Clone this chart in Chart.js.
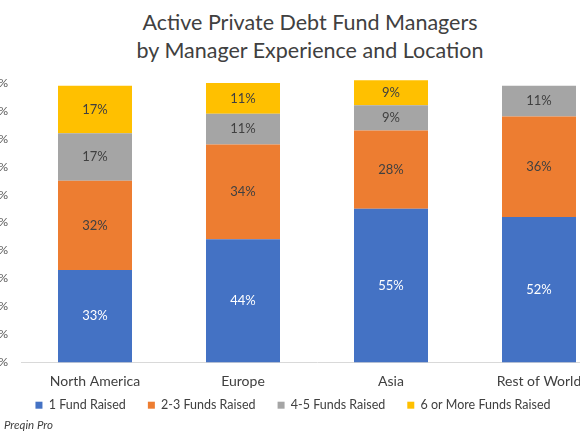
<!DOCTYPE html>
<html>
<head>
<meta charset="utf-8">
<script src="https://cdn.jsdelivr.net/npm/chart.js@4"></script>
<style>
    html, body { margin: 0; padding: 0; width: 580px; height: 435px; overflow: hidden; background: #fff; }
    #title {
        position: absolute; left: 0; top: 8px; width: 620px;
        text-align: center; font-family: Lato, sans-serif; font-size: 21.5px;
        line-height: 28px; color: #404040;
    }
    #wrap { position: absolute; left: -27px; top: 0; width: 700px; height: 441px; }
    #source {
        position: absolute; left: 4px; top: 418px;
        font-family: Lato, sans-serif; font-style: italic; font-size: 11.5px; color: #404040;
    }
</style>
</head>
<body>
<div id="title">Active Private Debt Fund Managers<br>by Manager Experience and Location</div>
<div id="wrap"><canvas id="chart"></canvas></div>
<div id="source">Preqin Pro</div>
<script>
// 数据
const regions = ['North America', 'Europe', 'Asia', 'Rest of World'];
const seriesNames = ['1 Fund Raised', '2-3 Funds Raised', '4-5 Funds Raised', '6 or More Funds Raised'];
const oneFund = [33, 44, 55, 52];
const twoToThree = [32, 34, 28, 36];
const fourToFive = [17, 11, 9, 11];
const sixPlus = [17, 11, 9, 0];
const yTicks = [0, 10, 20, 30, 40, 50, 60, 70, 80, 90, 100];

const colors = ['#4472C4', '#ED7D31', '#A5A5A5', '#FFC000'];
const values = [oneFund, twoToThree, fourToFive, sixPlus];

const legendPad = 22;
const legendFont = 12.5;

// 柱内数值标签
const barLabels = {
    id: 'barLabels',
    afterDatasetsDraw(chart) {
        const ctx = chart.ctx;
        ctx.save();
        ctx.font = '13px Lato, sans-serif';
        ctx.textAlign = 'center';
        ctx.textBaseline = 'middle';
        chart.data.datasets.forEach((ds, i) => {
            const meta = chart.getDatasetMeta(i);
            meta.data.forEach((bar, j) => {
                const v = ds.data[j];
                if (!v) return;
                const p = bar.getProps(['x', 'y', 'base'], true);
                ctx.fillStyle = i === 0 ? '#ffffff' : '#404040';
                ctx.fillText(v + '%', p.x, (p.y + p.base) / 2);
            });
        });
        ctx.restore();
    }
};

// 图例上移，贴近分类标签
const legendShift = {
    id: 'legendShift',
    afterLayout(chart) {
        const lg = chart.legend;
        const top = chart.chartArea.bottom + 43 - legendPad - legendFont / 2;
        const h = lg.bottom - lg.top;
        lg.top = top;
        lg.bottom = top + h;
    }
};

const chart = new Chart(document.getElementById('chart'), {
    type: 'bar',
    data: {
        labels: regions,
        datasets: seriesNames.map((name, i) => ({
            label: name,
            data: values[i],
            backgroundColor: colors[i],
            borderWidth: 0,
            barPercentage: 1,
            categoryPercentage: 0.5,
            clip: false
        }))
    },
    options: {
        responsive: true,
        maintainAspectRatio: false,
        animation: false,
        layout: { padding: { left: 0, right: 60, top: 83, bottom: 0 } },
        scales: {
            x: {
                stacked: true,
                grid: { display: true, drawOnChartArea: false, drawTicks: false },
                border: { display: true, color: '#D9D9D9', width: 1 },
                ticks: { color: '#404040', font: { family: 'Lato', size: 14 }, padding: 11 }
            },
            y: {
                stacked: true,
                min: 0,
                max: 100,
                afterBuildTicks: (scale) => { scale.ticks = yTicks.map(v => ({ value: v })); },
                grid: { display: false, drawTicks: false },
                border: { display: false },
                ticks: {
                    color: '#595959',
                    font: { family: 'Lato', size: 12 },
                    padding: 13,
                    callback: (value) => value + '%'
                },
                afterFit: (scale) => { scale.width = 48; }
            }
        },
        plugins: {
            legend: {
                position: 'bottom',
                maxHeight: 40,
                labels: {
                    color: '#404040',
                    font: { family: 'Lato', size: legendFont },
                    boxWidth: 7,
                    boxHeight: 7,
                    padding: legendPad
                }
            },
            tooltip: { enabled: false },
            title: { display: false }
        }
    },
    plugins: [barLabels, legendShift]
});
</script>
</body>
</html>
